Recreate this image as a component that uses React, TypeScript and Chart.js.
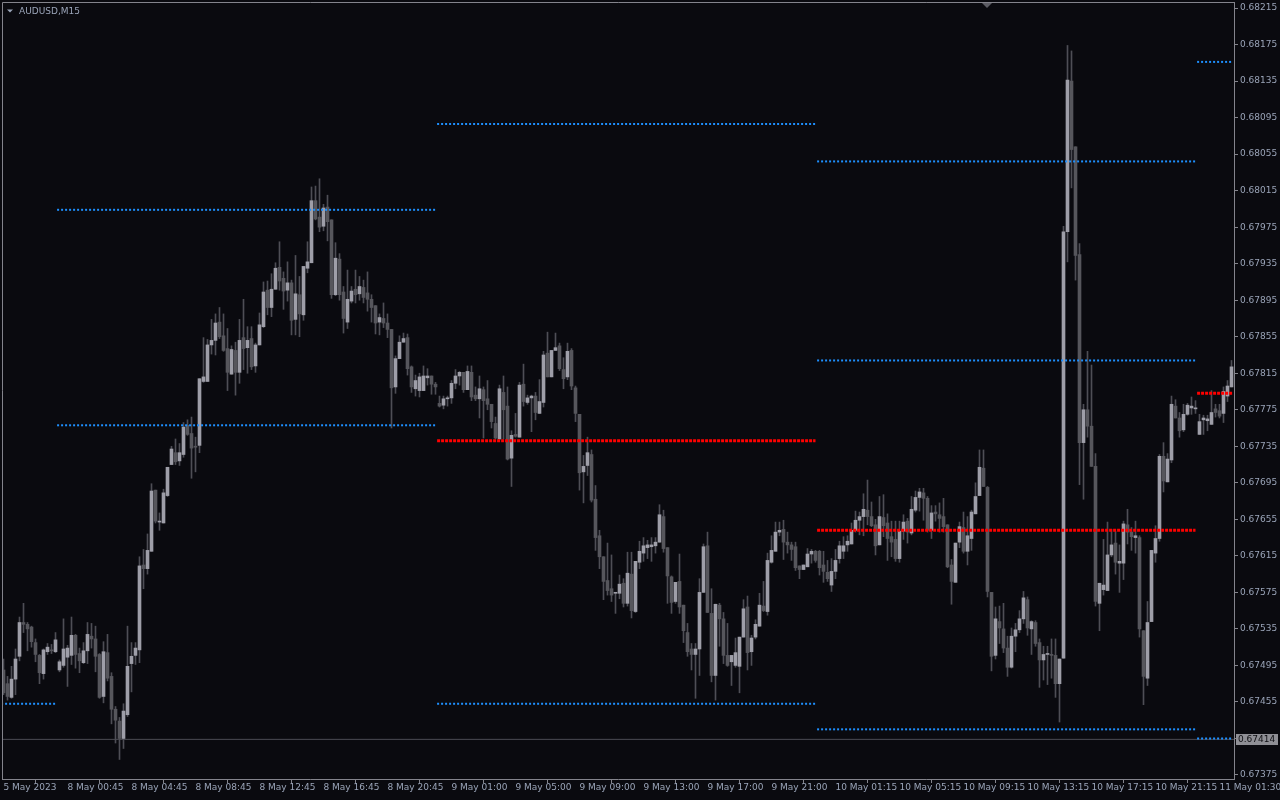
import React, { useEffect, useRef } from "react";
import { Chart, registerables } from "chart.js";

Chart.register(...registerables);

// AUDUSD M15 candles, prices in points (price * 100000)
const openPts = [
  67490, 67475, 67460, 67480, 67505, 67542, 67540, 67537, 67520, 67506,
  67486, 67510, 67512, 67510, 67490, 67495, 67504, 67506, 67528, 67508,
  67498, 67511, 67527, 67524, 67507, 67461, 67509, 67483, 67447, 67434,
  67415, 67441, 67497, 67506, 67512, 67605, 67601, 67620, 67687, 67652,
  67651, 67681, 67715, 67728, 67719, 67726, 67758, 67749, 67735, 67736,
  67806, 67806, 67846, 67851, 67871, 67856, 67842, 67814, 67840, 67816,
  67854, 67843, 67853, 67823, 67846, 67866, 67906, 67887, 67907, 67931,
  67919, 67906, 67914, 67874, 67901, 67879, 67930, 67936, 68004, 67986,
  67976, 67997, 67983, 67901, 67940, 67904, 67871, 67894, 67907, 67902,
  67909, 67903, 67896, 67889, 67871, 67875, 67870, 67863, 67800, 67831,
  67849, 67854, 67822, 67798, 67796, 67796, 67810, 67812, 67803, 67782,
  67780, 67787, 67788, 67804, 67812, 67816, 67797, 67816, 67791, 67787,
  67797, 67787, 67781, 67760, 67743, 67794, 67779, 67722, 67748, 67745,
  67803, 67783, 67788, 67790, 67771, 67783, 67837, 67811, 67840, 67845,
  67819, 67811, 67840, 67799, 67770, 67707, 67714, 67726, 67677, 67637,
  67614, 67588, 67579, 67574, 67574, 67585, 67563, 67595, 67554, 67608,
  67618, 67624, 67625, 67626, 67630, 67658, 67624, 67592, 67565, 67587,
  67561, 67531, 67513, 67507, 67513, 67575, 67626, 67552, 67484, 67561,
  67546, 67506, 67499, 67495, 67494, 67526, 67559, 67510, 67526, 67538,
  67560, 67554, 67608, 67620, 67641, 67644, 67630, 67627, 67625, 67604,
  67600, 67603, 67617, 67620, 67620, 67605, 67597, 67583, 67598, 67612,
  67620, 67627, 67628, 67643, 67654, 67658, 67665, 67658, 67649, 67627,
  67657, 67651, 67636, 67633, 67612, 67642, 67653, 67640, 67665, 67679,
  67684, 67678, 67643, 67663, 67660, 67658, 67649, 67605, 67586, 67630,
  67646, 67620, 67634, 67661, 67681, 67711, 67690, 67575, 67506, 67543,
  67535, 67514, 67493, 67527, 67534, 67546, 67567, 67535, 67542, 67520,
  67501, 67507, 67507, 67506, 67475, 67503, 67970, 68135, 68063, 67945,
  67739, 67775, 67757, 67713, 67563, 67578, 67577, 67616, 67629, 67607,
  67607, 67649, 67641, 67635, 67635, 67533, 67481, 67543, 67618, 67634,
  67724, 67696, 67720, 67779, 67766, 67753, 67770, 67777, 67776, 67748,
  67764, 67763, 67759, 67776, 67774, 67771, 67790, 67800,
];
const highPts = [
  67502, 67483, 67494, 67513, 67548, 67563, 67542, 67538, 67524, 67507,
  67513, 67519, 67518, 67531, 67501, 67546, 67517, 67548, 67529, 67514,
  67520, 67542, 67541, 67538, 67508, 67521, 67529, 67487, 67450, 67438,
  67453, 67538, 67520, 67520, 67614, 67622, 67639, 67694, 67687, 67662,
  67688, 67712, 67735, 67743, 67738, 67761, 67764, 67767, 67745, 67809,
  67854, 67852, 67874, 67880, 67887, 67880, 67864, 67845, 67849, 67874,
  67896, 67866, 67866, 67848, 67881, 67915, 67916, 67924, 67936, 67959,
  67926, 67937, 67917, 67944, 67921, 67932, 67959, 68019, 68020, 68028,
  68000, 68010, 67983, 67958, 67946, 67910, 67928, 67910, 67928, 67921,
  67917, 67926, 67901, 67889, 67880, 67892, 67880, 67863, 67834, 67856,
  67859, 67858, 67823, 67813, 67815, 67823, 67820, 67812, 67805, 67790,
  67790, 67790, 67807, 67819, 67817, 67816, 67823, 67823, 67800, 67812,
  67800, 67807, 67781, 67767, 67802, 67812, 67800, 67752, 67771, 67805,
  67825, 67791, 67791, 67794, 67808, 67839, 67860, 67840, 67859, 67848,
  67832, 67848, 67842, 67801, 67770, 67725, 67745, 67731, 67692, 67643,
  67614, 67629, 67616, 67575, 67594, 67590, 67619, 67619, 67609, 67631,
  67635, 67632, 67635, 67635, 67671, 67665, 67624, 67593, 67586, 67617,
  67561, 67541, 67519, 67519, 67590, 67628, 67641, 67579, 67562, 67563,
  67553, 67541, 67506, 67525, 67526, 67567, 67571, 67528, 67545, 67574,
  67587, 67618, 67637, 67652, 67652, 67654, 67641, 67630, 67630, 67604,
  67605, 67623, 67622, 67621, 67621, 67620, 67610, 67612, 67622, 67631,
  67636, 67637, 67651, 67664, 67663, 67683, 67698, 67674, 67655, 67680,
  67682, 67661, 67653, 67653, 67653, 67660, 67656, 67680, 67686, 67689,
  67689, 67680, 67670, 67670, 67673, 67678, 67649, 67611, 67629, 67652,
  67663, 67658, 67665, 67695, 67731, 67731, 67691, 67575, 67559, 67560,
  67563, 67527, 67536, 67541, 67555, 67576, 67570, 67544, 67544, 67524,
  67516, 67516, 67524, 67524, 67502, 67976, 68174, 68168, 68063, 67957,
  67781, 67839, 67824, 67727, 67585, 67633, 67652, 67644, 67642, 67627,
  67653, 67666, 67646, 67653, 67637, 67533, 67565, 67621, 67648, 67726,
  67739, 67727, 67790, 67786, 67772, 67781, 67782, 67789, 67785, 67770,
  67769, 67769, 67796, 67781, 67781, 67800, 67807, 67829,
];
const lowPts = [
  67463, 67457, 67459, 67463, 67500, 67531, 67511, 67515, 67499, 67475,
  67480, 67507, 67508, 67509, 67488, 67493, 67472, 67496, 67492, 67487,
  67497, 67497, 67514, 67488, 67459, 67454, 67478, 67431, 67410, 67392,
  67404, 67439, 67466, 67496, 67498, 67579, 67595, 67620, 67651, 67643,
  67651, 67680, 67715, 67715, 67714, 67723, 67747, 67700, 67707, 67728,
  67805, 67806, 67836, 67835, 67853, 67839, 67796, 67814, 67791, 67804,
  67819, 67815, 67819, 67816, 67846, 67865, 67879, 67877, 67907, 67906,
  67885, 67894, 67857, 67857, 67855, 67873, 67925, 67936, 67983, 67970,
  67971, 67960, 67897, 67900, 67895, 67859, 67864, 67892, 67892, 67895,
  67892, 67883, 67871, 67858, 67857, 67865, 67854, 67755, 67793, 67831,
  67849, 67813, 67794, 67790, 67789, 67796, 67802, 67792, 67792, 67778,
  67776, 67779, 67782, 67798, 67802, 67794, 67797, 67785, 67785, 67766,
  67744, 67775, 67755, 67743, 67743, 67743, 67720, 67691, 67745, 67745,
  67779, 67781, 67751, 67764, 67771, 67778, 67811, 67811, 67840, 67818,
  67798, 67808, 67797, 67762, 67687, 67673, 67703, 67674, 67621, 67601,
  67567, 67572, 67565, 67552, 67568, 67559, 67560, 67547, 67553, 67601,
  67609, 67612, 67609, 67618, 67630, 67619, 67563, 67552, 67563, 67552,
  67520, 67505, 67490, 67459, 67484, 67575, 67553, 67477, 67457, 67516,
  67497, 67494, 67473, 67493, 67465, 67526, 67490, 67495, 67524, 67538,
  67554, 67550, 67607, 67620, 67637, 67611, 67618, 67610, 67599, 67590,
  67600, 67603, 67607, 67608, 67594, 67586, 67587, 67576, 67590, 67607,
  67612, 67620, 67628, 67641, 67638, 67637, 67649, 67647, 67616, 67627,
  67636, 67610, 67614, 67609, 67608, 67633, 67629, 67638, 67663, 67664,
  67654, 67641, 67634, 67653, 67641, 67641, 67602, 67562, 67586, 67624,
  67618, 67605, 67621, 67661, 67681, 67691, 67570, 67489, 67502, 67519,
  67509, 67483, 67492, 67510, 67531, 67541, 67528, 67507, 67516, 67471,
  67479, 67474, 67481, 67460, 67433, 67503, 67937, 68018, 67917, 67693,
  67677, 67745, 67713, 67560, 67533, 67572, 67577, 67614, 67595, 67575,
  67589, 67628, 67621, 67618, 67526, 67452, 67473, 67543, 67608, 67631,
  67685, 67696, 67717, 67766, 67745, 67751, 67769, 67770, 67771, 67748,
  67748, 67752, 67759, 67767, 67766, 67761, 67784, 67800,
];
const closePts = [
  67465, 67461, 67480, 67502, 67542, 67540, 67535, 67521, 67507, 67487,
  67512, 67515, 67511, 67523, 67499, 67513, 67514, 67528, 67507, 67500,
  67511, 67529, 67524, 67505, 67460, 67510, 67481, 67447, 67435, 67415,
  67445, 67494, 67505, 67514, 67604, 67601, 67621, 67686, 67653, 67653,
  67684, 67712, 67732, 67718, 67728, 67756, 67748, 67733, 67734, 67809,
  67811, 67846, 67851, 67870, 67855, 67840, 67816, 67841, 67816, 67851,
  67842, 67851, 67822, 67846, 67868, 67904, 67887, 67907, 67930, 67916,
  67905, 67914, 67873, 67902, 67880, 67932, 67937, 68004, 67984, 67975,
  67996, 67981, 67901, 67941, 67901, 67875, 67896, 67905, 67901, 67910,
  67898, 67896, 67887, 67870, 67876, 67870, 67863, 67799, 67831, 67849,
  67853, 67820, 67800, 67807, 67811, 67812, 67812, 67803, 67800, 67779,
  67787, 67788, 67804, 67812, 67816, 67797, 67817, 67789, 67787, 67798,
  67785, 67781, 67762, 67744, 67798, 67775, 67721, 67747, 67746, 67802,
  67784, 67788, 67790, 67772, 67784, 67835, 67811, 67840, 67843, 67820,
  67809, 67839, 67801, 67771, 67706, 67713, 67728, 67676, 67635, 67614,
  67587, 67577, 67572, 67574, 67584, 67563, 67596, 67555, 67609, 67620,
  67626, 67627, 67627, 67630, 67660, 67623, 67593, 67564, 67586, 67559,
  67533, 67510, 67507, 67513, 67575, 67625, 67553, 67484, 67562, 67546,
  67506, 67495, 67506, 67509, 67526, 67557, 67509, 67525, 67540, 67561,
  67555, 67610, 67621, 67641, 67643, 67630, 67627, 67622, 67602, 67600,
  67605, 67617, 67620, 67610, 67602, 67598, 67590, 67598, 67610, 67626,
  67626, 67631, 67643, 67654, 67658, 67666, 67658, 67648, 67626, 67658,
  67648, 67634, 67630, 67612, 67642, 67652, 67641, 67666, 67679, 67685,
  67678, 67643, 67662, 67661, 67656, 67647, 67603, 67587, 67629, 67647,
  67620, 67637, 67663, 67680, 67712, 67691, 67576, 67505, 67546, 67536,
  67514, 67493, 67527, 67534, 67546, 67569, 67536, 67543, 67519, 67501,
  67507, 67507, 67506, 67475, 67502, 67970, 68136, 68060, 67944, 67739,
  67775, 67757, 67713, 67565, 67585, 67583, 67616, 67627, 67608, 67609,
  67650, 67641, 67636, 67637, 67535, 67483, 67542, 67621, 67634, 67724,
  67697, 67721, 67781, 67766, 67752, 67770, 67780, 67779, 67776, 67762,
  67766, 67765, 67772, 67772, 67768, 67795, 67801, 67822,
];

// time axis labels and the bar they sit on
const timeLabels = [
  "5 May 2023", "8 May 00:45", "8 May 04:45", "8 May 08:45", "8 May 12:45",
  "8 May 16:45", "8 May 20:45", "9 May 01:00", "9 May 05:00", "9 May 09:00",
  "9 May 13:00", "9 May 17:00", "9 May 21:00", "10 May 01:15", "10 May 05:15",
  "10 May 09:15", "10 May 13:15", "10 May 17:15", "10 May 21:15", "11 May 01:30",
];
const labelBars = [
  0, 16, 32, 48, 64, 80, 96, 112, 128, 144,
  160, 176, 192, 208, 224, 240, 256, 272, 288, 304,
];

// price axis ticks
const priceTicks = [
  0.67375, 0.67415, 0.67455, 0.67495, 0.67535, 0.67575, 0.67615, 0.67655,
  0.67695, 0.67735, 0.67775, 0.67815, 0.67855, 0.67895, 0.67935, 0.67975,
  0.68015, 0.68055, 0.68095, 0.68135, 0.68175, 0.68215,
];

// daily levels (points), one entry per trading day
const dayFirstBar = [0, 14, 109, 204, 299];
const dayLastBar = [13, 108, 203, 298, 307];
const upperBlue = [null, 67994, 68088, 68047, 68156];
const middleBlue = [null, 67758, null, 67829, null];
const pivotRed = [null, null, 67741, 67643, 67793];
const lowerBlue = [67453, null, 67453, 67425, 67415];

const markedPrice = 0.67414;
const symbolTitle = "AUDUSD,M15";

const BG = "#0a0a0f";
const FRAME = "#84848c";
const TEXT = "#9aa4b8";
const BULL = "#9e9ea8";
const BEAR = "#56565c";
const WICK = "#4e4e55";
const BLUE = "#1e90ff";
const RED = "#ff0000";
const FONT = "'DejaVu Sans', sans-serif";

export default function App() {
  const ref = useRef<HTMLCanvasElement | null>(null);

  useEffect(() => {
    document.body.style.margin = "0";
    document.body.style.background = BG;
    const canvas = ref.current;
    if (!canvas) return;

    const n = closePts.length;
    const bodies = [];
    const bodyColors: string[] = [];
    const wicks = [];
    for (let i = 0; i < n; i++) {
      bodies.push({ x: i, y: [openPts[i] / 1e5, closePts[i] / 1e5] });
      bodyColors.push(closePts[i] >= openPts[i] ? BULL : BEAR);
      wicks.push({ x: i, y: [lowPts[i] / 1e5, highPts[i] / 1e5] });
    }

    const levelSets: { vals: (number | null)[]; color: string; width: number; dash: number[] }[] = [
      { vals: upperBlue, color: BLUE, width: 2, dash: [2, 2] },
      { vals: middleBlue, color: BLUE, width: 2, dash: [2, 2] },
      { vals: lowerBlue, color: BLUE, width: 2, dash: [2, 2] },
      { vals: pivotRed, color: RED, width: 3, dash: [3, 1] },
    ];
    const levelDatasets: any[] = [];
    levelSets.forEach((set) => {
      set.vals.forEach((v, d) => {
        if (v === null) return;
        levelDatasets.push({
          type: "line",
          data: [
            { x: dayFirstBar[d] - 0.6, y: v / 1e5 },
            { x: dayLastBar[d] + (d === dayLastBar.length - 1 ? 0.3 : 0), y: v / 1e5 },
          ],
          borderColor: set.color,
          borderWidth: set.width,
          borderDash: set.dash,
          borderCapStyle: "butt",
          pointRadius: 0,
          order: 0,
        });
      });
    });

    const xMin = -0.375;
    const xMax = xMin + n;

    const decor = {
      id: "decor",
      beforeDraw(chart: any) {
        const ctx = chart.ctx;
        ctx.save();
        ctx.fillStyle = BG;
        ctx.fillRect(0, 0, chart.width, chart.height);
        ctx.restore();
      },
      afterDraw(chart: any) {
        const ctx = chart.ctx;
        const a = chart.chartArea;
        const ys = chart.scales.y;
        ctx.save();
        // frame top/left
        ctx.strokeStyle = FRAME;
        ctx.lineWidth = 1;
        ctx.beginPath();
        ctx.moveTo(a.left + 0.5, a.bottom);
        ctx.lineTo(a.left + 0.5, a.top + 0.5);
        ctx.lineTo(a.right + 1, a.top + 0.5);
        ctx.stroke();
        // title
        ctx.fillStyle = TEXT;
        ctx.beginPath();
        ctx.moveTo(7, 9.5);
        ctx.lineTo(13, 9.5);
        ctx.lineTo(10, 12.5);
        ctx.closePath();
        ctx.fill();
        ctx.font = "9px " + FONT;
        ctx.textBaseline = "alphabetic";
        ctx.textAlign = "left";
        ctx.fillText(symbolTitle, 19, 14);
        // chart shift marker
        ctx.fillStyle = "#5c5c64";
        ctx.beginPath();
        ctx.moveTo(982, a.top + 1);
        ctx.lineTo(992, a.top + 1);
        ctx.lineTo(987, a.top + 6);
        ctx.closePath();
        ctx.fill();
        // price label box
        const py = Math.round(ys.getPixelForValue(markedPrice));
        ctx.fillStyle = "#8f8f95";
        ctx.fillRect(a.right + 2, py - 5, 42, 11);
        ctx.fillStyle = "#101014";
        ctx.textBaseline = "middle";
        ctx.fillText(markedPrice.toFixed(5), a.right + 4, py + 0.5);
        ctx.restore();
      },
    };

    const chart = new Chart(canvas, {
      type: "bar",
      data: {
        datasets: [
          ...levelDatasets,
          {
            type: "bar",
            data: bodies as any,
            backgroundColor: bodyColors,
            barThickness: 3,
            minBarLength: 1,
            grouped: false,
            borderWidth: 0,
            order: 1,
          },
          {
            type: "bar",
            data: wicks as any,
            backgroundColor: WICK,
            barThickness: 1,
            grouped: false,
            borderWidth: 0,
            order: 2,
          },
          {
            type: "line",
            data: [
              { x: xMin, y: markedPrice },
              { x: xMax, y: markedPrice },
            ],
            borderColor: "#4c4c54",
            borderWidth: 1,
            pointRadius: 0,
            order: 3,
          },
        ] as any,
      },
      options: {
        animation: false,
        responsive: false,
        events: [],
        layout: { padding: { left: 2, top: 2, right: 0, bottom: 0 } },
        plugins: { legend: { display: false }, tooltip: { enabled: false } },
        scales: {
          x: {
            type: "linear",
            min: xMin,
            max: xMax,
            offset: false,
            afterBuildTicks: (s: any) => {
              s.ticks = labelBars.map((v) => ({ value: v }));
            },
            afterFit: (s: any) => {
              s.height = 21;
              s.paddingLeft = 0;
              s.paddingRight = 0;
            },
            ticks: {
              autoSkip: false,
              maxRotation: 0,
              minRotation: 0,
              align: "start",
              padding: 0,
              color: TEXT,
              font: { family: FONT, size: 9, lineHeight: 1.1 },
              callback: (_v: any, i: number) => timeLabels[i],
            },
            grid: { drawOnChartArea: false, drawTicks: true, tickLength: 4, color: FRAME },
            border: { display: true, color: FRAME },
          },
          y: {
            position: "right",
            min: 0.673706,
            max: 0.682216,
            afterBuildTicks: (s: any) => {
              s.ticks = priceTicks.map((v) => ({ value: v }));
            },
            afterFit: (s: any) => {
              s.width = 46;
              s.paddingTop = 0;
              s.paddingBottom = 0;
            },
            ticks: {
              autoSkip: false,
              padding: 2,
              color: TEXT,
              font: { family: FONT, size: 9 },
              callback: (v: any) => Number(v).toFixed(5),
            },
            grid: { drawOnChartArea: false, drawTicks: true, tickLength: 4, color: FRAME },
            border: { display: true, color: FRAME },
          },
        },
      } as any,
      plugins: [decor],
    });

    return () => chart.destroy();
  }, []);

  return <canvas ref={ref} width={1280} height={800} style={{ display: "block", width: 1280, height: 800 }} />;
}
